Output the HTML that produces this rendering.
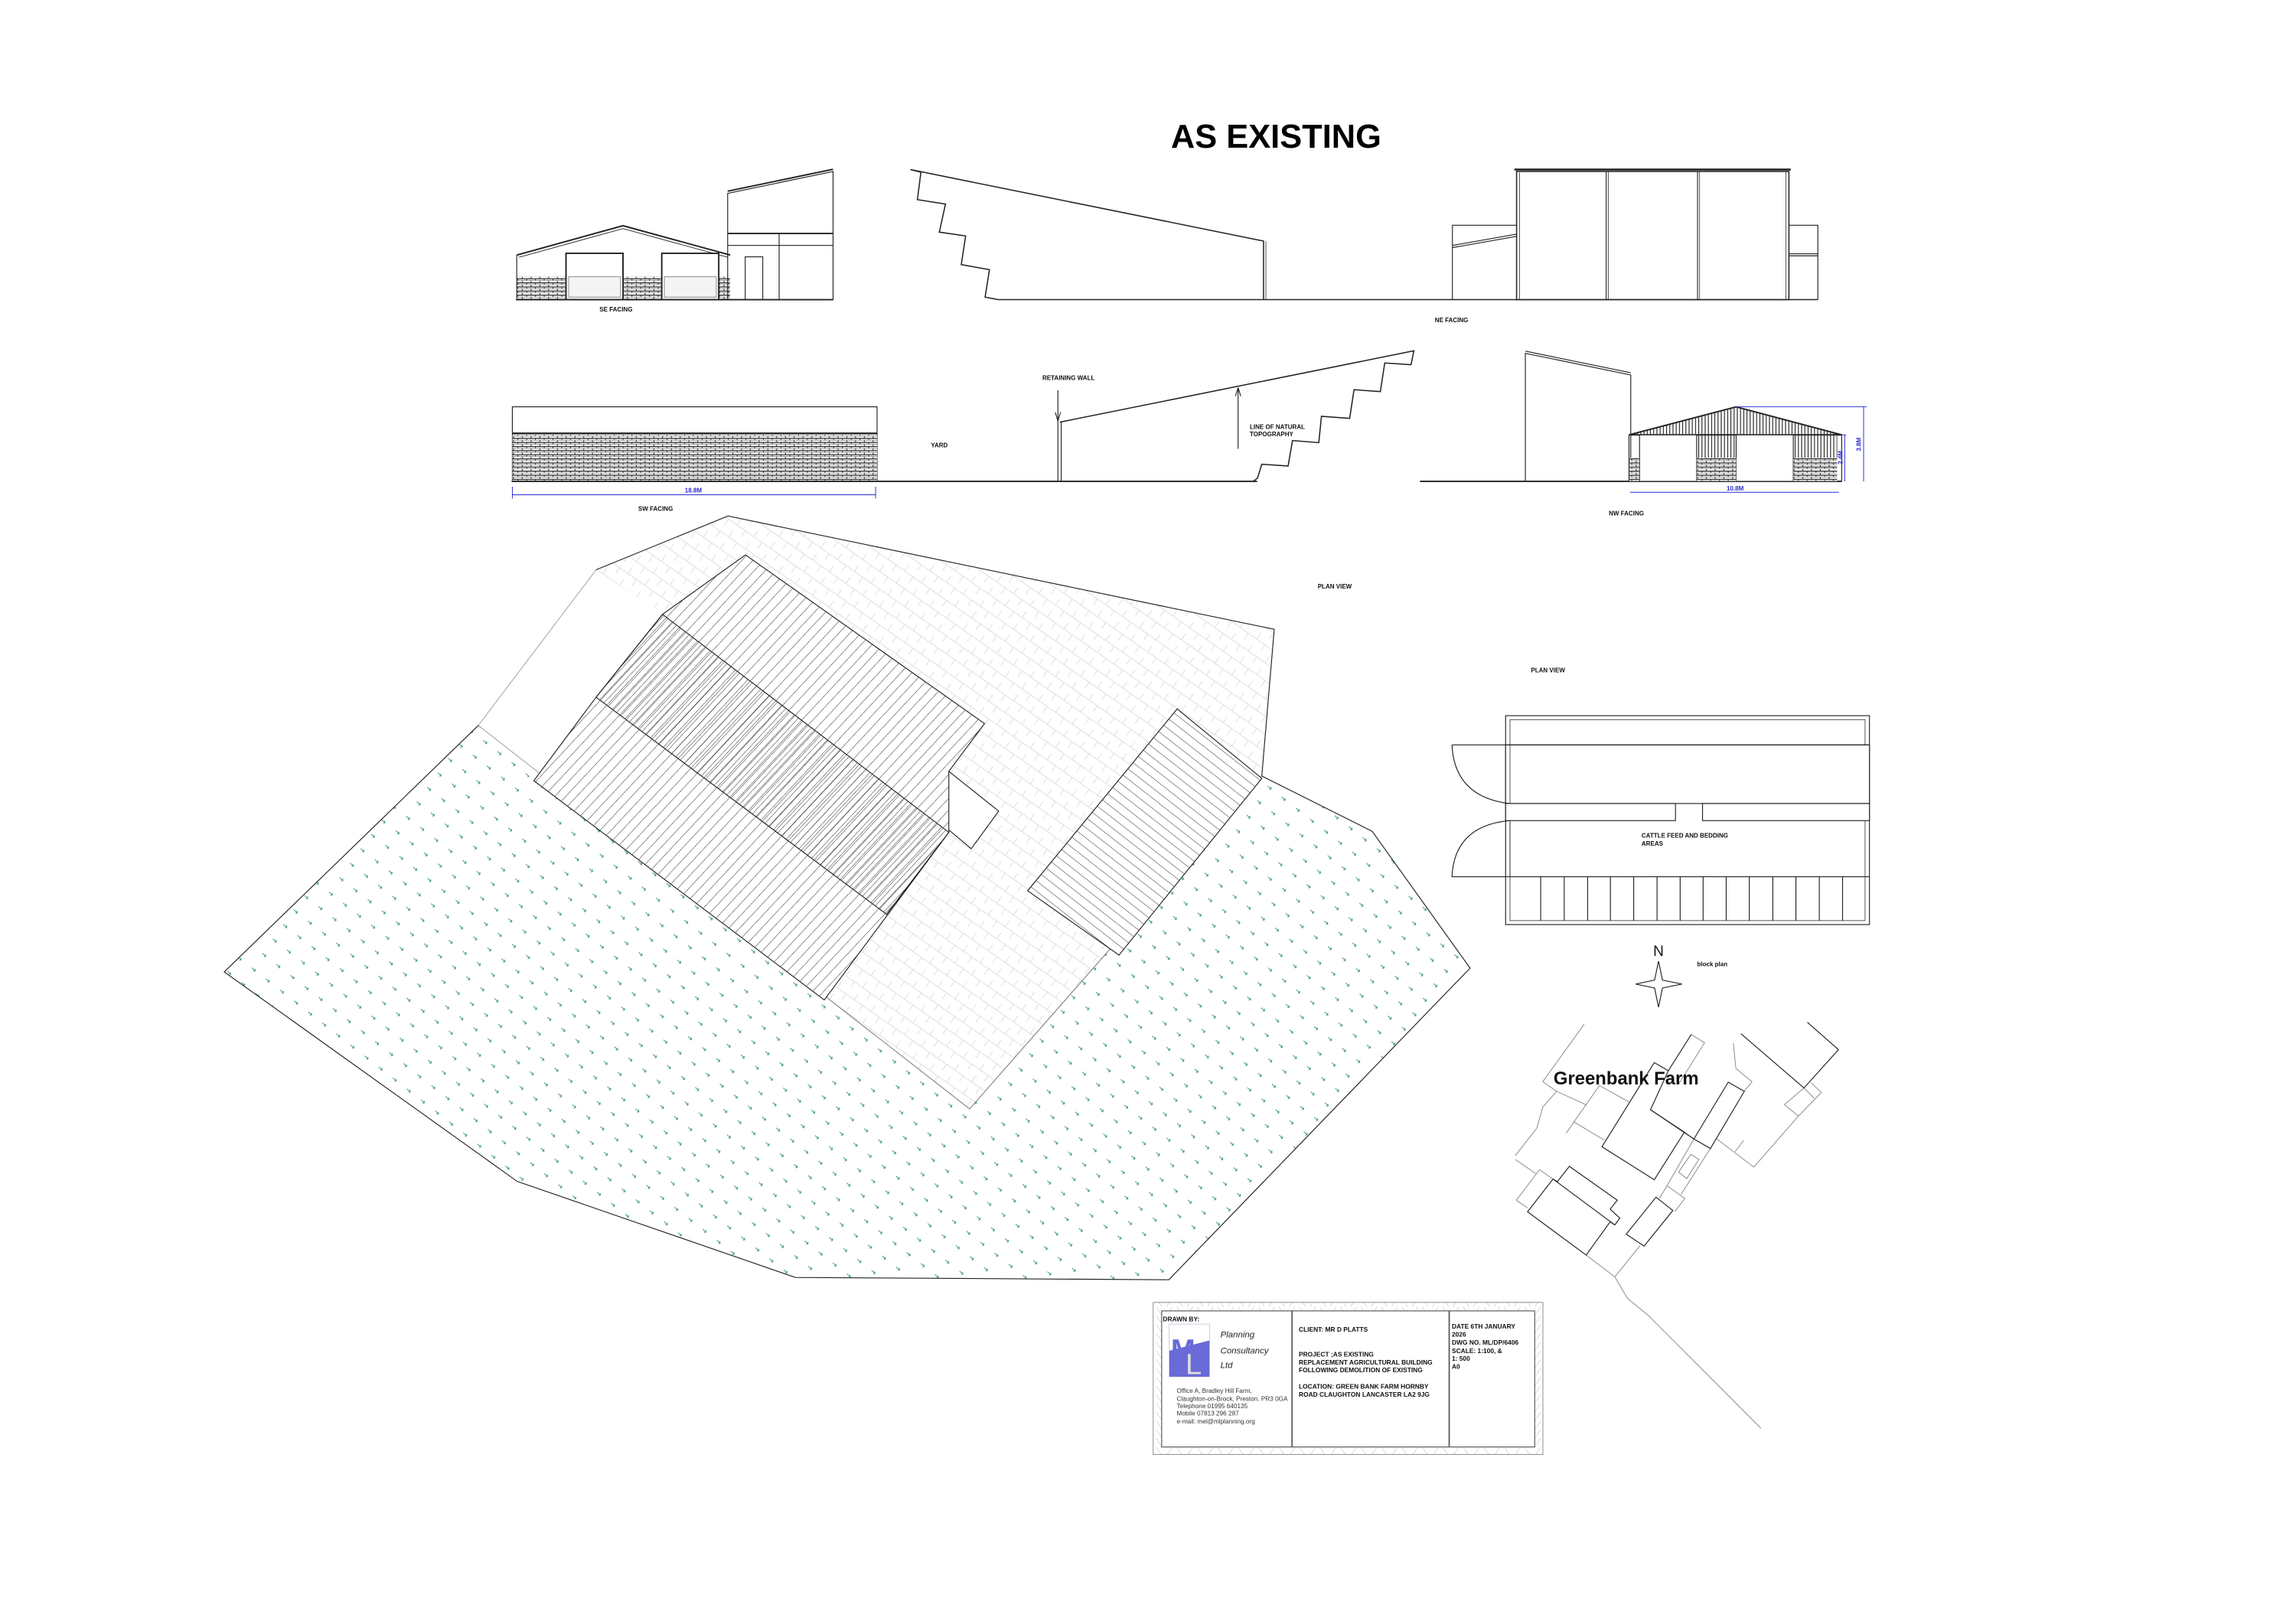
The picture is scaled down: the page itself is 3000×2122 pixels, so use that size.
<!DOCTYPE html>
<html><head><meta charset="utf-8"><style>
html,body{margin:0;padding:0;background:#fff;width:3000px;height:2122px;overflow:hidden}
svg{display:block}
text{font-family:"Liberation Sans",sans-serif}
</style></head><body>
<svg width="3000" height="2122" viewBox="0 0 1570.7 1111" preserveAspectRatio="none" xmlns="http://www.w3.org/2000/svg">
<defs>
<pattern id="brick" width="6" height="2.8" patternUnits="userSpaceOnUse">
<rect width="6" height="2.8" fill="#fff"/>
<line x1="0" y1="0.3" x2="6" y2="0.3" stroke="#222" stroke-width="0.7"/>
<line x1="0.3" y1="0" x2="0.3" y2="1.4" stroke="#222" stroke-width="0.5"/>
<line x1="3.3" y1="1.4" x2="3.3" y2="2.8" stroke="#222" stroke-width="0.5"/>
<line x1="0" y1="1.6" x2="6" y2="1.6" stroke="#555" stroke-width="0.3"/>
</pattern>
<pattern id="hatchA" width="5.5" height="10" patternUnits="userSpaceOnUse" patternTransform="rotate(43)">
<line x1="0" y1="0" x2="0" y2="10" stroke="#222" stroke-width="0.5"/>
</pattern>
<pattern id="hatchC" width="3.6" height="10" patternUnits="userSpaceOnUse" patternTransform="rotate(43)">
<line x1="0" y1="0" x2="0" y2="10" stroke="#222" stroke-width="0.5"/>
</pattern>
<pattern id="hatchB" width="5.5" height="10" patternUnits="userSpaceOnUse" patternTransform="rotate(-52)">
<line x1="0" y1="0" x2="0" y2="10" stroke="#222" stroke-width="0.5"/>
</pattern>
<pattern id="yard" width="14" height="10" patternUnits="userSpaceOnUse" patternTransform="rotate(35)">
<rect width="14" height="10" fill="#fff"/>
<line x1="0" y1="5" x2="14" y2="5" stroke="#ddd" stroke-width="0.5"/>
<line x1="3" y1="0" x2="3" y2="5" stroke="#ddd" stroke-width="0.5"/>
<line x1="10" y1="5" x2="10" y2="10" stroke="#ddd" stroke-width="0.5"/>
</pattern>
<pattern id="grass" width="17" height="17.6" patternUnits="userSpaceOnUse" patternTransform="rotate(-8)">
<rect width="17" height="17.6" fill="#fff"/>
<path d="M2 2 L4 4.5 M4 4.5 L4 3 M4 4.5 L2.7 4.5" stroke="#3a9a6a" stroke-width="0.5" fill="none"/>
<path d="M10.5 10.8 L12.5 13.3 M12.5 13.3 L12.5 11.8 M12.5 13.3 L11.2 13.3" stroke="#3a9a6a" stroke-width="0.5" fill="none"/>
</pattern>
<pattern id="tbh" width="14" height="6" patternUnits="userSpaceOnUse">
<path d="M0 6 L4 0 M7 0 L11 6" stroke="#bbb" stroke-width="0.3" fill="none"/>
</pattern>
<pattern id="vstr" width="2.2" height="10" patternUnits="userSpaceOnUse">
<line x1="0.5" y1="0" x2="0.5" y2="10" stroke="#222" stroke-width="0.6"/>
</pattern>
</defs>

<text x="873" y="101" font-size="23" font-weight="bold" text-anchor="middle" textLength="144" lengthAdjust="spacingAndGlyphs">AS EXISTING</text>

<g fill="none" stroke="#222" stroke-width="0.6">
<!-- SE facing -->
<rect x="353.5" y="189.3" width="146" height="15.7" fill="url(#brick)" stroke="none"/>
<path d="M353.5 174.5 L426.2 154.4 L499.6 174.5" stroke-width="1"/>
<path d="M355 176 L426.2 156.4 L498 176" stroke-width="0.5"/>
<line x1="353.5" y1="174.5" x2="353.5" y2="205"/>
<rect x="387.2" y="173.3" width="39" height="31.7" fill="#fff" stroke-width="1"/>
<rect x="452.7" y="173.3" width="39" height="31.7" fill="#fff" stroke-width="1"/>
<rect x="389" y="189.3" width="35.5" height="14" stroke="#999" fill="#f4f4f4"/>
<rect x="454.5" y="189.3" width="35.5" height="14" stroke="#999" fill="#f4f4f4"/>
<path d="M497.8 205 L497.8 132.3 L569.9 117.3 L569.9 205" />
<path d="M497.8 130.8 L569.9 115.8" stroke-width="1"/>
<line x1="497.8" y1="159.7" x2="569.9" y2="159.7" stroke-width="1"/>
<line x1="497.8" y1="167.9" x2="569.9" y2="167.9"/>
<line x1="533" y1="159.7" x2="533" y2="205"/>
<rect x="509.8" y="175.7" width="12" height="29.3"/>
<line x1="353" y1="205" x2="570" y2="205" stroke-width="1"/>
<!-- NE facing -->
<path d="M622.8 116 L864.4 164.9 L864.4 205" stroke-width="0.8"/>
<line x1="866" y1="165" x2="866" y2="205" stroke-width="0.4"/>
<path d="M622.8 116 L630 117.8 L627.6 136.6 L646.8 139.6 L642.6 158.8 L660.6 161.4 L657.6 181 L676.9 184.5 L673.9 203.3 L682.9 205 L1243.6 205" stroke-width="0.8"/>
<rect x="1037.5" y="117.3" width="186.3" height="87.7" stroke-width="0.8"/>
<line x1="1036" y1="116" x2="1225" y2="116" stroke-width="1.4"/>
<line x1="1039.5" y1="118" x2="1039.5" y2="205" stroke-width="0.4"/>
<line x1="1098.8" y1="117.3" x2="1098.8" y2="205"/><line x1="1100.2" y1="117.3" x2="1100.2" y2="205" stroke-width="0.4"/>
<line x1="1161.3" y1="117.3" x2="1161.3" y2="205"/><line x1="1162.7" y1="117.3" x2="1162.7" y2="205" stroke-width="0.4"/>
<line x1="1221.8" y1="117.3" x2="1221.8" y2="205" stroke-width="0.4"/>
<path d="M993.6 205 L993.6 154.1 L1037.5 154.1"/>
<path d="M993.6 167.9 L1037.5 160.2 M993.6 169.4 L1037.5 161.7"/>
<path d="M1223.8 154.1 L1243.6 154.1 L1243.6 205 M1223.8 173.6 L1243.6 173.6 M1223.8 175 L1243.6 175"/>

<!-- SW facing -->
<rect x="350.5" y="278.3" width="249.5" height="51" fill="#fff"/>
<rect x="350.5" y="297.5" width="249.5" height="31.8" fill="url(#brick)" stroke="none"/>
<line x1="350.5" y1="296.5" x2="600" y2="296.5" stroke-width="1.2"/>
<line x1="350" y1="329.3" x2="860" y2="329.3" stroke-width="1"/>
<path d="M723.7 267 L723.7 329.3 M726 288.8 L726 329.3"/>
<path d="M723.7 288 L721.9 282 M723.7 288 L725.5 282" />
<path d="M725 288.8 L967.2 240 L965.3 249.5 L947.3 248.3 L944.3 267.9 L926.3 266.6 L923.3 286.2 L904 284.8 L902.2 302.8 L884.2 301.4 L881.2 318.8 L863.2 317.6 L860.2 327.2 L857.2 329.3" stroke-width="0.8"/>
<path d="M847 265.2 L847 307.1 M847 265.2 L845.2 271 M847 265.2 L848.8 271"/>
<g stroke="#2a2ad0" stroke-width="0.5"><line x1="350.5" y1="338.5" x2="599" y2="338.5"/><line x1="350.5" y1="333" x2="350.5" y2="341"/><line x1="599" y1="333" x2="599" y2="341"/></g>
<!-- NW facing -->
<line x1="971.4" y1="329.3" x2="1260" y2="329.3" stroke-width="1"/>
<path d="M1043.5 329.3 L1043.5 241.7 L1115.6 256.5 L1115.6 329.3"/>
<path d="M1043.5 240.2 L1115.6 255"/>
<polygon points="1114.4,297.5 1187.7,278.3 1259.9,297.5" fill="url(#vstr)" stroke-width="1"/>
<rect x="1121.6" y="297.5" width="39.1" height="31.8" fill="#fff"/>
<rect x="1187.7" y="297.5" width="39.1" height="31.8" fill="#fff"/>
<rect x="1160.7" y="297.5" width="27" height="16" fill="url(#vstr)" stroke="none"/>
<rect x="1226.8" y="297.5" width="30" height="16" fill="url(#vstr)" stroke="none"/>
<rect x="1114.4" y="313.2" width="7" height="16" fill="url(#brick)" stroke="none"/>
<rect x="1160.7" y="313.2" width="27" height="16" fill="url(#brick)" stroke="none"/>
<rect x="1226.8" y="313.2" width="30" height="16" fill="url(#brick)" stroke="none"/>
<line x1="1114.4" y1="297.5" x2="1114.4" y2="329.3"/><line x1="1259.9" y1="297.5" x2="1259.9" y2="329.3"/>
<g stroke="#2a2ad0" stroke-width="0.5"><line x1="1115" y1="336.8" x2="1258" y2="336.8"/><line x1="1274.9" y1="278.3" x2="1274.9" y2="329.3"/><line x1="1187.7" y1="278.3" x2="1277" y2="278.3"/><line x1="1259.9" y1="297.5" x2="1263" y2="297.5"/><line x1="1262" y1="297.5" x2="1262" y2="329.3"/></g>
</g>
<g font-size="4.2" font-weight="bold" text-anchor="middle" fill="#111">
<text x="421.4" y="213">SE FACING</text>
<text x="993" y="220.5">NE FACING</text>
<text x="448.5" y="349.5">SW FACING</text>
<text x="642.6" y="306">YARD</text>
<text x="731" y="260">RETAINING WALL</text>
<text x="1112.6" y="352.5">NW FACING</text>
<text x="474.3" y="337" fill="#2a2ad0">18.8M</text>
<text x="1187" y="335.5" fill="#2a2ad0">10.8M</text>
<text x="913.1" y="402.5">PLAN VIEW</text>
<text x="1059" y="460">PLAN VIEW</text>
<text x="682" y="439.5">YARD</text>
<text x="467.4" y="481.5">BUILDINGS</text>
<text x="377.7" y="724">FIELD</text>
</g>
<g font-size="4.2" font-weight="bold" fill="#111">
<text x="855" y="293.5">LINE OF NATURAL</text><text x="855" y="298.5">TOPOGRAPHY</text>
<text x="1123" y="573">CATTLE FEED AND BEDDING</text><text x="1123" y="578.5">AREAS</text>
</g>
<g font-size="4.2" font-weight="bold" fill="#2a2ad0">
<text transform="translate(1273,304) rotate(-90)" text-anchor="middle">3.8M</text>
<text transform="translate(1260.5,313) rotate(-90)" text-anchor="middle">2.4M</text>
</g>

<!-- plan view -->
<polygon points="327.2,496.3 663.3,758.5 863.2,530.9 938.7,568.7 1005.7,662.3 799.6,875.5 544.1,873.9 353.8,808.2 153.4,664.9" fill="url(#grass)" stroke="#222" stroke-width="0.6"/>
<polygon points="407.8,389.8 498,353 871.7,430.5 863.2,530.9 663.3,758.5 327.2,496.3" fill="url(#yard)" stroke="none"/>
<polygon points="407.8,389.8 327.2,496.3 365.2,534.1 453.2,420.3" fill="#fff" stroke="none"/>
<path d="M407.8 389.8 L498 353 L871.7 430.5 L863.2 530.9" fill="none" stroke="#222" stroke-width="0.6"/>
<path d="M407.8 389.8 L327.2 496.3 L663.3 758.5 L863.2 530.9" fill="none" stroke="#888" stroke-width="0.4"/>
<polygon points="649.1,527.7 683.2,554.9 664.4,580.6 643.4,563" fill="#fff" stroke="#222" stroke-width="0.6"/>
<polygon points="510,379.6 673.5,495 649.1,527.7 649.1,569.4 563.9,684.1 365.2,534.1 407.8,477 453.2,420.3" fill="#fff" stroke="none"/>
<polygon points="510,379.6 673.5,495 649.1,527.7 649.1,569.4 563.9,684.1 365.2,534.1 407.8,477 453.2,420.3" fill="url(#hatchA)" stroke="#222" stroke-width="0.6"/>
<polygon points="453.2,420.3 649.1,569.4 606.5,625.5 407.8,477" fill="url(#hatchC)" stroke="#222" stroke-width="0.6"/>
<polygon points="805.3,485 863.2,532.5 765.5,653.4 703,609.4" fill="#fff" stroke="none"/>
<polygon points="805.3,485 863.2,532.5 765.5,653.4 703,609.4" fill="url(#hatchB)" stroke="#222" stroke-width="0.6"/>

<!-- cattle plan -->
<g fill="none" stroke="#222" stroke-width="0.6">
<rect x="1030" y="489.6" width="248.9" height="142.9"/>
<rect x="1033" y="492.3" width="242.9" height="137.5" stroke-width="0.4"/>
<rect x="1030" y="509.6" width="248.9" height="40.1" fill="#fff"/>
<path d="M993.3 509.6 L1278.9 509.6 M993.3 509.6 Q995 545 1032.4 549.7" />
<rect x="1030" y="549.7" width="116.2" height="11.7" fill="#fff"/>
<rect x="1164.7" y="549.7" width="114.2" height="11.7" fill="#fff"/>
<path d="M1032.4 561.4 Q995 565 993.3 599.8 L1278.9 599.8"/>
<path d="M1033 509.6 L1033 549.7 M1033 561.4 L1033 599.8" stroke-width="0.4"/>
<path d="M1054 599.8V629.8M1070.1 599.8V629.8M1086.1 599.8V629.8M1101.7 599.8V629.8M1117.6 599.8V629.8M1133.6 599.8V629.8M1149.4 599.8V629.8M1165.1 599.8V629.8M1180.9 599.8V629.8M1196.7 599.8V629.8M1212.8 599.8V629.8M1228.6 599.8V629.8M1244.6 599.8V629.8M1260.5 599.8V629.8"/>
<polygon points="1134.6,657.5 1137.3,670.5 1150.6,673.2 1137.3,675.9 1134.6,689 1131.9,675.9 1119,673.2 1131.9,670.5" fill="#fff"/>
</g>
<text x="1134.6" y="654" font-size="10" text-anchor="middle" fill="#111">N</text>
<text x="1161" y="661" font-size="4.2" font-weight="bold" fill="#111">block plan</text>

<!-- block plan -->
<g fill="none" stroke="#888" stroke-width="0.5">
<path d="M1083.7 700.7 L1055.4 740 L1064.9 746.6 L1055.4 757.4 L1051.4 771.7 L1036.6 790.6"/>
<path d="M1036.6 793.2 L1050.6 802.8"/>
<path d="M1064.9 746.6 L1085.5 756"/>
<path d="M1094.2 742.6 L1076.7 767.5 L1071.5 775.2 M1094.2 742.6 L1114.3 753.9 M1076.7 767.5 L1097.7 780.1"/>
<path d="M1037.3 821.1 L1053.2 800.2 L1062.4 806.6 M1037.3 821.1 L1045 826.3"/>
<path d="M1085.1 858.6 L1104.7 873.5 L1122.1 852 M1104.7 873.5 L1113.4 888.3 L1127.3 899.6 L1204.7 977.1"/>
<path d="M1135.2 819.9 L1140.4 811.2 L1152.6 819.9 L1145.7 828.9 M1140.4 811.2 L1158.8 779.2 M1150 817.1 L1170.1 785.7 M1152.3 774.5 L1158.8 779.2"/>
<polygon points="1148.3,801.9 1156.7,789.7 1162.2,793.2 1153.9,806.3"/>
<path d="M1157 707.7 L1166.1 713.4 L1148.3 741.7"/>
<path d="M1185.8 713.8 L1187.5 730.9 L1198.5 740 L1193.3 746.6"/>
<path d="M1174.5 779.2 L1199.8 798.4 L1230.3 763.5 L1246 747.3 L1239 740.8 M1220.7 755.7 L1230.3 763.5 M1220.7 755.7 L1234.1 744.3 L1241.1 751.3"/>
<path d="M1187 787.9 L1192.8 780.1"/>
</g>
<g fill="none" stroke="#222" stroke-width="0.6">
<polygon points="1095.9,784.5 1131.7,726.9 1141.3,732.5 1129.1,759.2 1152.3,774.5 1131.7,807.1"/>
<line x1="1141.3" y1="732.5" x2="1157" y2="707.7"/>
<polygon points="1158.8,779.2 1182.3,740.3 1193.3,746.6 1170.1,785.7"/>
<line x1="1129.1" y1="759.2" x2="1158.8" y2="779.2"/>
<polygon points="1045,829 1062.4,806.6 1065.4,808.4 1073.6,797.9 1106.4,821.1 1101.5,827.2 1108.1,833.3 1104.7,838 1101.5,835.9 1085.1,858.6"/>
<line x1="1062.4" y1="806.6" x2="1104.7" y2="838"/>
<polygon points="1112.5,844.3 1132.9,819 1144.4,828.1 1124.7,852.5"/>
<path d="M1191 707.2 L1234.1 744.3 L1257.7 718.1 L1236.4 699.3"/>
</g>
<text x="1062.8" y="742" font-size="12.5" font-weight="bold" fill="#111">Greenbank Farm</text>

<!-- title block -->
<rect x="788.9" y="891" width="266.6" height="104" fill="url(#tbh)" stroke="#888" stroke-width="0.5"/>
<rect x="794.7" y="896.8" width="255.2" height="93.1" fill="#fff" stroke="#555" stroke-width="0.6"/>
<line x1="883.9" y1="896.8" x2="883.9" y2="989.9" stroke="#555" stroke-width="0.9"/>
<line x1="991.4" y1="896.8" x2="991.4" y2="989.9" stroke="#555" stroke-width="0.9"/>
<rect x="799.9" y="905.8" width="27.5" height="36" fill="#fff" stroke="#aac" stroke-width="0.3"/>
<polygon points="799.9,924 827.4,917 827.4,941.8 799.9,941.8" fill="#6a6ad8"/>
<text x="801" y="930" font-size="20" font-weight="bold" fill="#6a6ad8" font-family="Liberation Serif">M</text>
<text x="811" y="940" font-size="20" fill="#ddd" font-family="Liberation Serif">L</text>
<g font-size="6" font-style="italic" font-family="Liberation Serif" fill="#222">
<text x="834.9" y="915">Planning</text><text x="834.9" y="926">Consultancy</text><text x="834.9" y="936">Ltd</text>
</g>
<g font-size="4.3" font-family="Liberation Serif" fill="#333">
<text x="805" y="953">Office A, Bradley Hill Farm,</text>
<text x="805" y="958.3">Claughton-on-Brock, Preston. PR3 0GA</text>
<text x="805" y="963.4">Telephone 01995 640135</text>
<text x="805" y="968.4">Mobile 07813 296 287</text>
<text x="805" y="973.8">e-mail: mel@mlplanning.org</text>
</g>
<g font-size="4.4" font-weight="bold" fill="#111">
<text x="795.5" y="904">DRAWN BY:</text>
<text x="888.5" y="911">CLIENT: MR D PLATTS</text>
<text x="888.5" y="928">PROJECT ;AS EXISTING</text>
<text x="888.5" y="933.4">REPLACEMENT AGRICULTURAL BUILDING</text>
<text x="888.5" y="938.8">FOLLOWING DEMOLITION OF EXISTING</text>
<text x="888.5" y="949.9">LOCATION: GREEN BANK FARM HORNBY</text>
<text x="888.5" y="955.5">ROAD CLAUGHTON LANCASTER LA2 9JG</text>
<text x="993.2" y="908.9">DATE 6TH JANUARY</text>
<text x="993.2" y="914.4">2026</text>
<text x="993.2" y="920">DWG NO. ML/DP/6406</text>
<text x="993.2" y="925.6">SCALE:  1:100,  &amp;</text>
<text x="993.2" y="931">1: 500</text>
<text x="993.2" y="936.5">A0</text>
</g>
</svg>
</body></html>
